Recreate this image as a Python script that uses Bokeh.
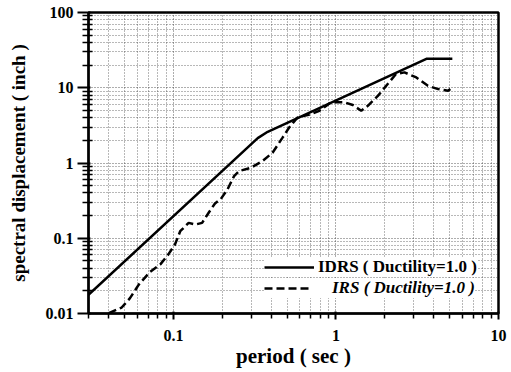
from bokeh.plotting import figure
from bokeh.models import (FixedTicker, CustomJSTickFormatter, Legend, LegendItem,
                          Range1d)
from bokeh.embed import file_html
from bokeh.resources import INLINE

# ---- data ----
idrs_T = [0.03, 0.33, 0.38, 3.6, 5.2]
idrs_Sd = [0.0177, 2.14, 2.6, 24.2, 24.2]

irs_T = [0.040, 0.048, 0.054, 0.061, 0.072, 0.083, 0.093, 0.102, 0.110, 0.124,
         0.136, 0.150, 0.165, 0.180, 0.195, 0.215, 0.236, 0.253, 0.300, 0.353,
         0.407, 0.469, 0.515, 0.580, 0.700, 0.790, 0.930, 1.125, 1.27, 1.43,
         1.57, 1.81, 2.08, 2.34, 2.64, 3.12, 3.68, 4.25, 4.9, 5.05]
irs_Sd = [0.0101, 0.012, 0.016, 0.024, 0.036, 0.045, 0.061, 0.082, 0.124, 0.16,
          0.152, 0.16, 0.22, 0.29, 0.33, 0.446, 0.67, 0.78, 0.865, 1.06,
          1.37, 2.17, 2.96, 4.02, 4.46, 4.94, 6.4, 6.4, 5.9, 4.94,
          5.75, 7.8, 11.2, 15.2, 16.0, 13.7, 10.6, 9.6, 9.1, 9.6]

x_ticks = [0.1, 1, 10]
x_labels = ["0.1", "1", "10"]
y_ticks = [0.01, 0.1, 1, 10, 100]
y_labels = ["0.01", "0.1", "1", "10", "100"]

x_title = "period ( sec )"
y_title = "spectral displacement ( inch )"
idrs_name = "IDRS ( Ductility=1.0 )"
irs_name = "IRS ( Ductility=1.0 )"

FONT = "Liberation Serif"

p = figure(width=511, height=372, x_axis_type="log", y_axis_type="log",
           x_range=Range1d(0.03, 10), y_range=Range1d(0.01, 100),
           output_backend="svg", toolbar_location=None,
           min_border_left=88, min_border_right=13, min_border_top=12,
           min_border_bottom=59)

minor_x = [m * 10.0 ** e for e in (-2, -1, 0) for m in range(2, 10)]
minor_y = [m * 10.0 ** e for e in (-2, -1, 0, 1) for m in range(2, 10)]

p.xaxis.ticker = FixedTicker(ticks=x_ticks, minor_ticks=minor_x)
p.yaxis.ticker = FixedTicker(ticks=y_ticks, minor_ticks=minor_y)

fmt_code = """
const i = tv.findIndex(t => Math.abs(t - tick) / t < 1e-6);
return i >= 0 ? lab[i] : '';
"""
p.xaxis.formatter = CustomJSTickFormatter(args=dict(tv=x_ticks, lab=x_labels), code=fmt_code)
p.yaxis.formatter = CustomJSTickFormatter(args=dict(tv=y_ticks, lab=y_labels), code=fmt_code)

for ax in (p.xaxis[0], p.yaxis[0]):
    ax.axis_line_width = 2
    ax.axis_line_color = "black"
    ax.major_tick_line_color = "black"
    ax.major_tick_line_width = 2
    ax.minor_tick_line_color = "black"
    ax.minor_tick_line_width = 1.5
    ax.major_label_text_font = FONT
    ax.major_label_text_font_style = "bold"
    ax.major_label_text_font_size = "16px"
    ax.major_label_text_color = "black"
    ax.axis_label_text_font = FONT
    ax.axis_label_text_font_style = "bold"
    ax.axis_label_text_color = "black"

p.xaxis.axis_label_text_font_size = "21px"
p.yaxis.axis_label_text_font_size = "19px"

p.xaxis.major_tick_out = 6
p.xaxis.major_tick_in = 2
p.xaxis.minor_tick_out = 5
p.xaxis.minor_tick_in = 0
p.xaxis.major_label_standoff = 10
p.xaxis.axis_label_standoff = 0

p.yaxis.major_tick_out = 11
p.yaxis.major_tick_in = 2
p.yaxis.minor_tick_out = 6
p.yaxis.minor_tick_in = 4
p.yaxis.major_label_standoff = 4
p.yaxis.axis_label_standoff = 14

p.xaxis.axis_label = x_title
p.yaxis.axis_label = y_title

p.outline_line_color = "black"
p.outline_line_width = 2.5
p.outline_line_alpha = 1

for g in (p.xgrid[0], p.ygrid[0]):
    g.grid_line_color = "#333333"
    g.grid_line_dash = "1 2"
    g.grid_line_width = 1
    g.grid_line_alpha = 0.8
    g.minor_grid_line_color = "#333333"
    g.minor_grid_line_dash = "1 2"
    g.minor_grid_line_width = 1
    g.minor_grid_line_alpha = 0.7

r1 = p.line(idrs_T, idrs_Sd, line_color="black", line_width=2.5)
r2 = p.line(irs_T, irs_Sd, line_color="black", line_width=2.5, line_dash="8 4")

leg1 = Legend(items=[LegendItem(label=idrs_name, renderers=[r1])],
              location=(176, 36), padding=2, margin=0, glyph_width=50, glyph_height=20,
              label_standoff=4, border_line_color=None,
              background_fill_color="white", background_fill_alpha=1)
leg2 = Legend(items=[LegendItem(label=irs_name, renderers=[r2])],
              location=(176, 15), padding=2, margin=0, glyph_width=48, glyph_height=20,
              label_standoff=20, border_line_color=None,
              background_fill_color="white", background_fill_alpha=1)
for lg, style in ((leg1, "bold"), (leg2, "bold italic")):
    lg.label_text_font = FONT
    lg.label_text_font_style = style
    lg.label_text_font_size = "17px"
    lg.label_text_color = "black"
p.add_layout(leg1, "center")
p.add_layout(leg2, "center")

p.background_fill_color = "white"
p.border_fill_color = "white"

open("out.html", "w").write(file_html(p, INLINE))
